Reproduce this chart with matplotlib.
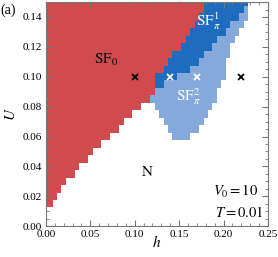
import numpy as np
import matplotlib
matplotlib.use('Agg')
import matplotlib.pyplot as plt
from matplotlib.colors import ListedColormap

plt.rcParams['font.family'] = ['Liberation Serif', 'DejaVu Serif']
plt.rcParams['mathtext.fontset'] = 'stix'

# phase grid rows (U) and upper h of each phase in that row
U_rows = [0.015, 0.020, 0.025, 0.030, 0.035, 0.040, 0.045, 0.050, 0.055,
          0.060, 0.065, 0.070, 0.075, 0.080, 0.085, 0.090, 0.095, 0.100,
          0.105, 0.110, 0.115, 0.120, 0.125, 0.130, 0.135, 0.140, 0.145, 0.150]
red_hi = [0.005, 0.010, 0.015, 0.020, 0.030, 0.035, 0.045, 0.050, 0.060,
          0.070, 0.080, 0.085, 0.095, 0.105, 0.115, 0.120, 0.120, 0.120,
          0.130, 0.135, 0.140, 0.150, 0.155, 0.160, 0.165, 0.170, 0.175, 0.175]
dark_hi = [None] * 16 + [0.130, 0.145, 0.160, 0.170, 0.175, 0.185, 0.190,
                         0.200, 0.205, 0.215, 0.220, 0.225]
light_lo = [None] * 9 + [0.145, 0.140, 0.135, 0.130, 0.125, 0.120, 0.125,
                         0.135, 0.150, 0.165, 0.175, 0.180, 0.190, 0.195,
                         0.205, 0.210, 0.220, 0.225, None]
light_hi = [None] * 9 + [0.160, 0.170, 0.175, 0.180, 0.185, 0.190, 0.190,
                         0.195, 0.200, 0.200, 0.200, 0.205, 0.205, 0.210,
                         0.215, 0.220, 0.225, 0.225, None]

cross_h = [0.10, 0.14, 0.17, 0.22]
cross_U = [0.10, 0.10, 0.10, 0.10]
cross_c = ['black', 'white', 'white', 'black']

dh = 0.005
h_c = np.arange(0, 0.2501, dh)
U_c = np.arange(0, 0.1501, dh)
phase = np.zeros((len(U_c), len(h_c)))
for i, u in enumerate(U_rows):
    j = int(round(u / dh))
    phase[j, h_c <= red_hi[i] + 1e-9] = 1
    if dark_hi[i] is not None:
        phase[j, (h_c > red_hi[i] + 1e-9) & (h_c <= dark_hi[i] + 1e-9)] = 2
    if light_lo[i] is not None:
        phase[j, (h_c >= light_lo[i] - 1e-9) & (h_c <= light_hi[i] + 1e-9)] = 3

h_e = np.append(h_c - dh / 2, h_c[-1] + dh / 2)
U_e = np.append(U_c - dh / 2, U_c[-1] + dh / 2)
cmap = ListedColormap(['white', '#D04A4E', '#1E6CBF', '#86A9DC'])

fig = plt.figure(figsize=(2.78, 2.57), dpi=100)
ax = fig.add_axes([0.165, 0.12, 0.799, 0.872])
ax.pcolormesh(h_e, U_e, phase, cmap=cmap, vmin=-0.5, vmax=3.5)
for x, y, c in zip(cross_h, cross_U, cross_c):
    ax.plot(x, y, marker='x', color=c, ms=4, mew=1.3, ls='none')

ax.set_xlim(0, 0.25)
ax.set_ylim(0, 0.15)
ax.set_xticks(np.arange(0, 0.251, 0.05))
ax.set_yticks(np.arange(0, 0.141, 0.02))
ax.set_xticks(np.arange(0, 0.251, 0.01), minor=True)
ax.set_yticks(np.arange(0, 0.151, 0.005), minor=True)
ax.xaxis.set_major_formatter(plt.FormatStrFormatter('%.2f'))
ax.yaxis.set_major_formatter(plt.FormatStrFormatter('%.2f'))
ax.tick_params(which='both', direction='in', top=True, right=True,
               color='#777777', labelsize=8, pad=3)
ax.tick_params(which='major', length=4)
ax.tick_params(which='minor', length=2)
for s in ax.spines.values():
    s.set_color('#777777')
    s.set_linewidth(0.8)

ax.set_xlabel(r'$h$', fontsize=11, labelpad=-4)
ax.set_ylabel(r'$U$', fontsize=11, labelpad=3)

ax.text(0.068, 0.111, r'$\mathrm{SF}_0$', fontsize=11, ha='center', va='center')
ax.text(0.183, 0.137, r'$\mathrm{SF}_\pi^1$', fontsize=11, ha='center',
        va='center', color='white')
ax.text(0.161, 0.087, r'$\mathrm{SF}_\pi^2$', fontsize=11, ha='center',
        va='center', color='white')
ax.text(0.114, 0.036, r'$\mathrm{N}$', fontsize=11, ha='center', va='center')
ax.text(0.188, 0.0235, r'$V_0=10$', fontsize=10.5, ha='left', va='center')
ax.text(0.19, 0.0094, r'$T=0.01$', fontsize=10.5, ha='left', va='center')
fig.text(0.003, 0.96, '(a)', fontsize=10, ha='left', va='center')

fig.savefig('out.png', dpi=100)
